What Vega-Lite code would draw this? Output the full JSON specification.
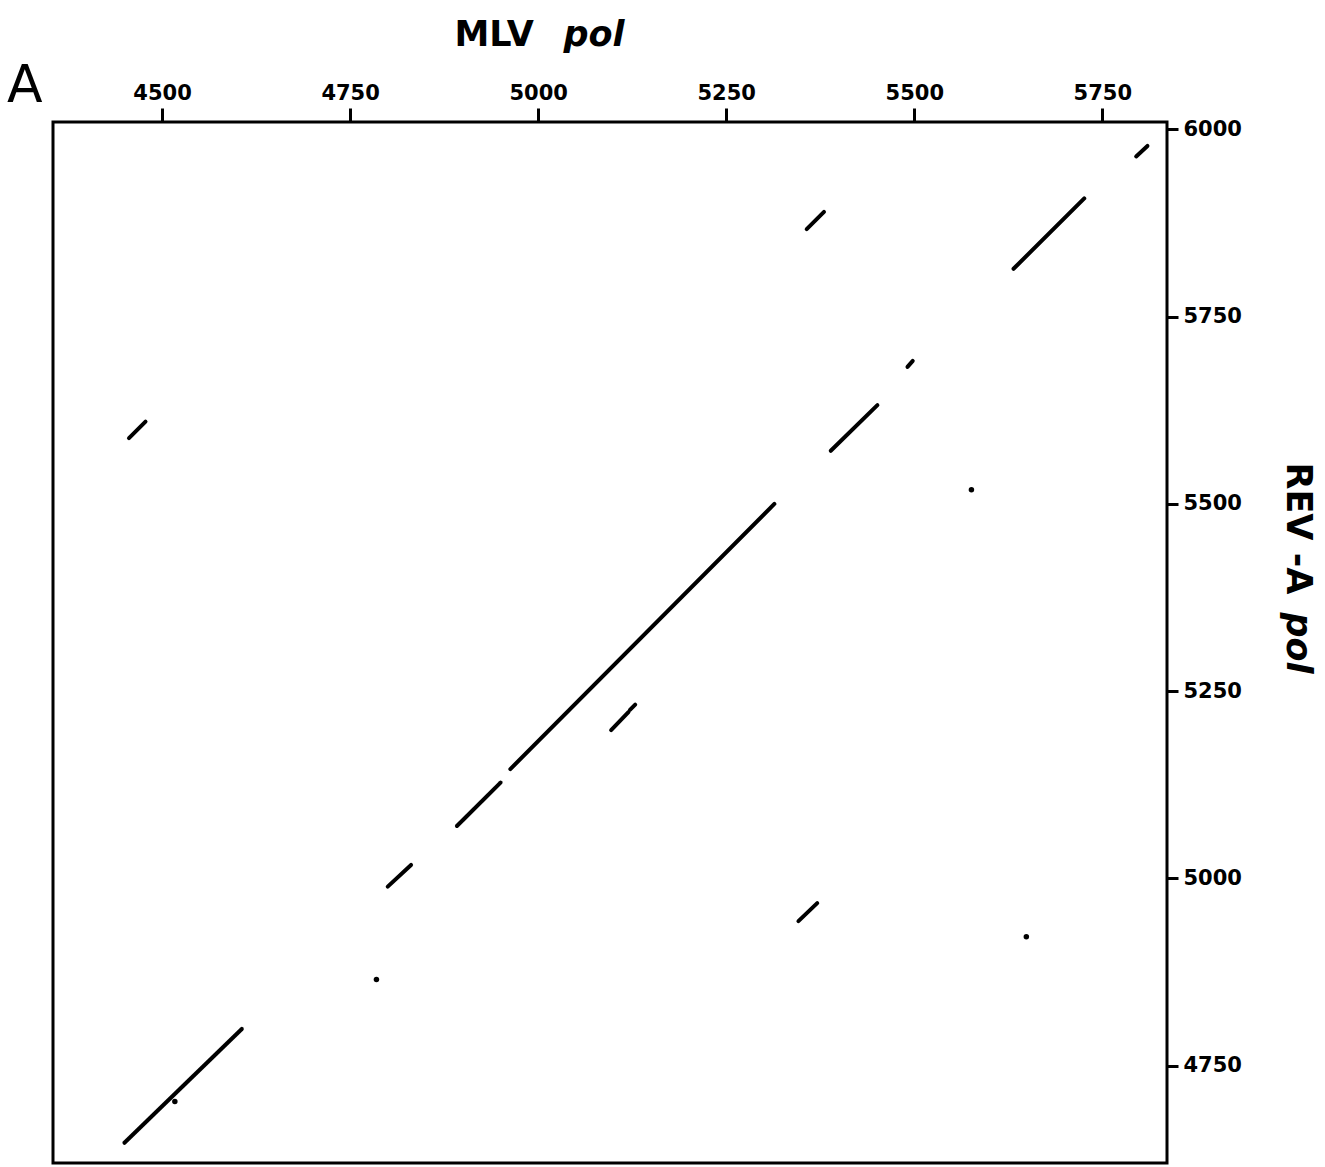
{
  "$schema": "https://vega.github.io/schema/vega-lite/v6.json",
  "width": 1114,
  "height": 1041,
  "autosize": {"type": "none"},
  "padding": {"left": 53, "top": 122, "right": 158, "bottom": 4},
  "background": "white",
  "title": {"text": "A", "anchor": "start", "frame": "group", "fontSize": 52, "font": "DejaVu Sans", "fontWeight": "normal", "color": "black", "dx": -46, "dy": 100},
  "config": {
    "view": {"stroke": "black", "strokeWidth": 3},
    "axis": {"grid": false, "domain": false, "labelFlush": false, "labelOverlap": false}
  },
  "data": {
    "values": [
      {"x1": 5795, "y1": 5964, "x2": 5810, "y2": 5978},
      {"x1": 5357, "y1": 5867, "x2": 5380, "y2": 5890},
      {"x1": 5632, "y1": 5814, "x2": 5726, "y2": 5908},
      {"x1": 5491, "y1": 5683, "x2": 5498, "y2": 5691},
      {"x1": 4456, "y1": 5588, "x2": 4478, "y2": 5610},
      {"x1": 5389, "y1": 5571, "x2": 5451, "y2": 5632},
      {"x1": 5576, "y1": 5519, "x2": 5576, "y2": 5519},
      {"x1": 4963, "y1": 5146, "x2": 5314, "y2": 5500},
      {"x1": 4892, "y1": 5070, "x2": 4950, "y2": 5128},
      {"x1": 5097, "y1": 5198, "x2": 5120, "y2": 5222},
      {"x1": 5122, "y1": 5225, "x2": 5129, "y2": 5232},
      {"x1": 4800, "y1": 4989, "x2": 4831, "y2": 5018},
      {"x1": 5346, "y1": 4943, "x2": 5371, "y2": 4967},
      {"x1": 5649, "y1": 4922, "x2": 5649, "y2": 4922},
      {"x1": 4785, "y1": 4865, "x2": 4785, "y2": 4865},
      {"x1": 4450, "y1": 4647, "x2": 4606, "y2": 4799},
      {"x1": 4517, "y1": 4702, "x2": 4517, "y2": 4702}
    ]
  },
  "layer": [
    {
      "transform": [{"filter": "datum.x1 != datum.x2"}],
      "mark": {"type": "rule", "color": "black", "strokeWidth": 4, "strokeCap": "round"},
      "encoding": {
        "x": {"field": "x1", "type": "quantitative", "scale": {"domain": [4355, 5836], "nice": false, "zero": false},
          "axis": {"orient": "top", "values": [4500, 4750, 5000, 5250, 5500, 5750], "format": "d", "tickSize": 14, "tickWidth": 3, "tickColor": "black",
            "labelFont": "DejaVu Sans", "labelFontWeight": "bold", "labelFontSize": 21, "labelColor": "black", "labelPadding": 5,
            "title": "MLV", "titleFont": "DejaVu Sans", "titleFontSize": 35, "titleFontWeight": "bold", "titleColor": "black",
            "titleX": 401, "titleY": -77, "titleAlign": "left", "titleBaseline": "alphabetic", "titleAngle": 0}},
        "x2": {"field": "x2"},
        "y": {"field": "y1", "type": "quantitative", "scale": {"domain": [4620, 6010], "nice": false, "zero": false},
          "axis": {"orient": "right", "values": [4750, 5000, 5250, 5500, 5750, 6000], "format": "d", "tickSize": 11, "tickWidth": 3, "tickColor": "black",
            "labelFont": "DejaVu Sans", "labelFontWeight": "bold", "labelFontSize": 21, "labelColor": "black", "labelPadding": 5,
            "title": "REV -A", "titleFont": "DejaVu Sans", "titleFontSize": 35, "titleFontWeight": "bold", "titleColor": "black",
            "titleX": 130, "titleY": 340, "titleAlign": "left", "titleBaseline": "middle", "titleAngle": 90}},
        "y2": {"field": "y2"}
      }
    },
    {
      "transform": [{"filter": "datum.x1 == datum.x2"}],
      "mark": {"type": "circle", "color": "black", "opacity": 1, "size": 30},
      "encoding": {
        "x": {"field": "x1", "type": "quantitative", "scale": {"domain": [4355, 5836], "nice": false, "zero": false},
          "axis": {"orient": "top", "ticks": false, "labels": false, "domain": false,
            "title": "pol", "titleFont": "DejaVu Sans", "titleFontSize": 35, "titleFontWeight": "bold", "titleFontStyle": "italic", "titleColor": "black",
            "titleX": 510, "titleY": -77, "titleAlign": "left", "titleBaseline": "alphabetic", "titleAngle": 0}},
        "y": {"field": "y1", "type": "quantitative", "scale": {"domain": [4620, 6010], "nice": false, "zero": false},
          "axis": {"orient": "right", "ticks": false, "labels": false, "domain": false,
            "title": "pol", "titleFont": "DejaVu Sans", "titleFontSize": 35, "titleFontWeight": "bold", "titleFontStyle": "italic", "titleColor": "black",
            "titleX": 130, "titleY": 490, "titleAlign": "left", "titleBaseline": "middle", "titleAngle": 90}}
      }
    }
  ],
  "resolve": {"scale": {"x": "independent", "y": "independent"}}
}
